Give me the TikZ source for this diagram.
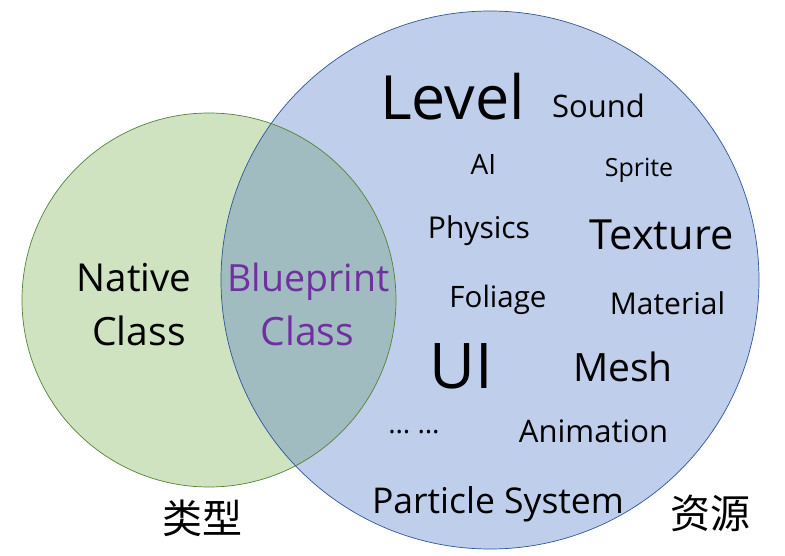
\documentclass[tikz,border=0pt]{standalone}
\usepackage{fontspec}
\setmainfont{Open Sans}
\newfontfamily\cjkfont{Noto Sans CJK SC}
\definecolor{greenfill}{RGB}{207,227,193}
\definecolor{bluefill}{RGB}{191,206,234}
\definecolor{interfill}{RGB}{160,188,192}
\definecolor{greenline}{RGB}{84,130,53}
\definecolor{blueline}{RGB}{47,85,151}
\definecolor{bppurple}{RGB}{112,48,160}
\newcommand{\fs}[1]{\fontsize{#1pt}{#1pt}\selectfont}
\tikzset{
  word/.style={inner sep=0pt, anchor=base},
  cjkword/.style={inner sep=0pt, anchor=base, font=\cjkfont\fs{40}},
}
\begin{document}
\begin{tikzpicture}[x=1pt,y=-1pt]
\useasboundingbox (0,0) rectangle (785,556);
\coordinate (gc) at (209,300);
\coordinate (bc) at (490,280);
\fill[greenfill] (gc) circle[radius=187pt];
\fill[bluefill] (bc) circle[radius=269pt];
\begin{scope}
  \clip (gc) circle[radius=187pt];
  \fill[interfill] (bc) circle[radius=269pt];
\end{scope}
\draw[greenline, line width=0.7pt] (gc) circle[radius=187pt];
\draw[blueline, line width=0.7pt] (bc) circle[radius=269pt];

\node[word, font=\fs{61}] (level) at (452.5,120) {Level};
\node[word, font=\fs{31}] (sound) at (598.5,118) {Sound};
\node[word, font=\fs{28}] (ai) at (483.5,175) {AI};
\node[word, font=\fs{25}] (sprite) at (639,177) {Sprite};
\node[word, font=\fs{30}] (physics) at (479,239) {Physics};
\node[word, font=\fs{41.5}] (texture) at (661.5,250) {Texture};
\node[word, font=\fs{29.5}] (foliage) at (498,308) {Foliage};
\node[word, font=\fs{30}] (material) at (667.5,314) {Material};
\node[word, font=\fs{63}] (ui) at (461.5,388) {UI};
\node[word, font=\fs{39}] (mesh) at (623,381) {Mesh};
\node[word, font=\fs{28}] (dots) at (414,433) {\dots\ \dots};
\node[word, font=\fs{31}] (anim) at (593.5,442) {Animation};
\node[word, font=\fs{35.5}] (particle) at (498,513) {Particle System};

\node[word, font=\fs{38.5}] (native) at (134,292) {Native};
\node[word, font=\fs{39}] (nclass) at (139,345) {Class};
\node[word, font=\fs{37.5}, text=bppurple] (blueprint) at (308.5,292) {Blueprint};
\node[word, font=\fs{39}, text=bppurple] (bclass) at (307.5,345) {Class};

\node[cjkword] (ziyuan) at (710,528) {资源};
\node[cjkword] (leixing) at (202.5,533) {类型};
\end{tikzpicture}
\end{document}
